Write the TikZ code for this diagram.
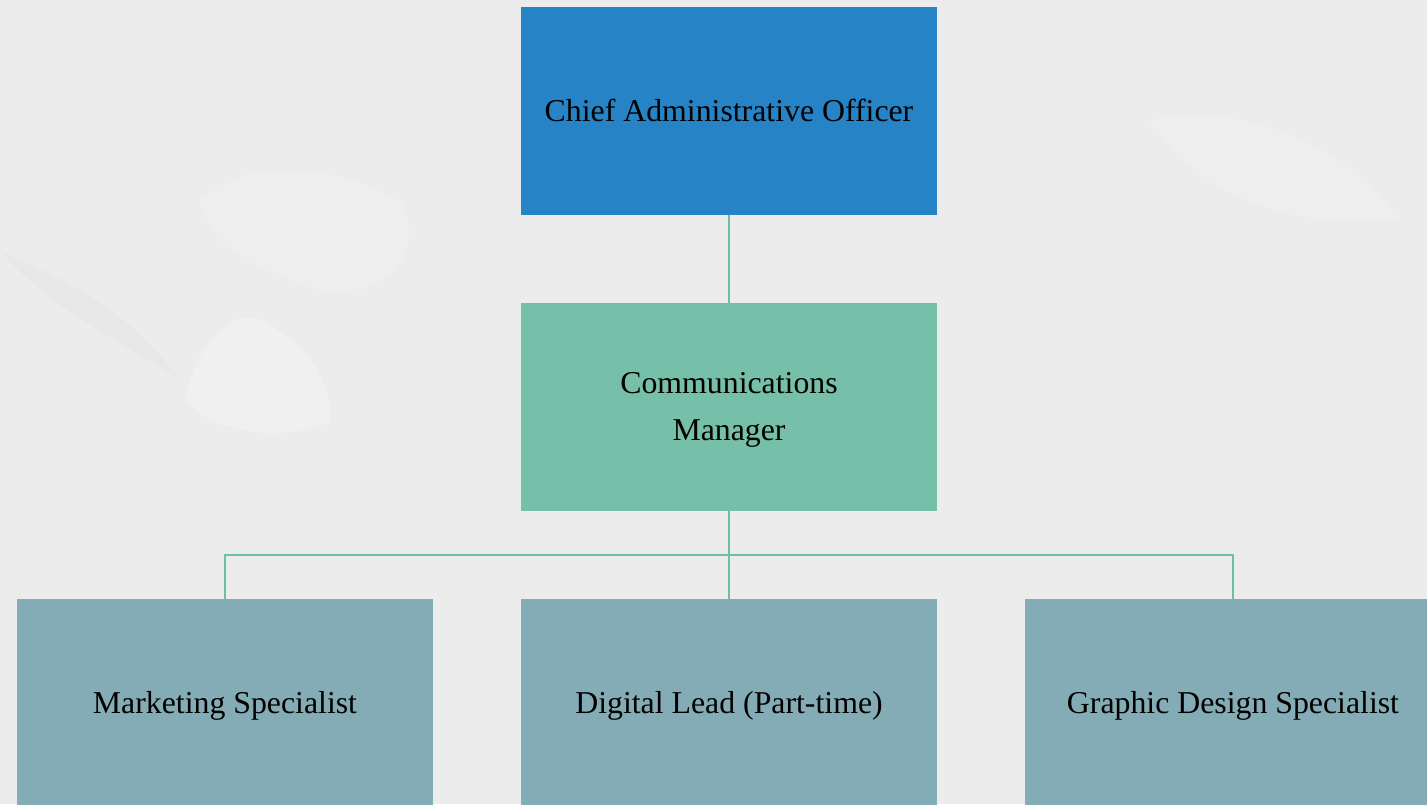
\documentclass[tikz,border=0pt]{standalone}
\usepackage{fontspec}
\setmainfont{Liberation Serif}
\definecolor{bg}{HTML}{ECECEC}
\definecolor{bgdark}{HTML}{E3E3E3}
\definecolor{bglight}{HTML}{F3F3F3}
\definecolor{topc}{HTML}{2683C6}
\definecolor{midc}{HTML}{76BFA8}
\definecolor{lowc}{HTML}{84ACB6}
\definecolor{linec}{HTML}{6CC0A6}
\tikzset{
  box/.style={minimum width=416pt, minimum height=208pt, inner sep=0pt, align=center,
    font=\fontsize{31.8}{47}\selectfont, text=black, text height=24pt, text depth=4pt},
  twoline/.style={text height=72pt, text depth=6pt},
  link/.style={draw=linec, line width=1.3pt}
}
\begin{document}
\begin{tikzpicture}[x=1pt,y=-1pt]
\useasboundingbox (0,0) rectangle (1427,804);
\clip (0,0) rectangle (1427,804);
\fill[bg] (0,0) rectangle (1427,804);
% subtle texture patches
\fill[bglight, opacity=0.6] (185,400) .. controls (200,330) and (240,310) .. (260,320) .. controls (300,340) and (330,370) .. (330,420) .. controls (300,440) and (220,440) .. (185,400) -- cycle;
\fill[bglight, opacity=0.4] (200,200) .. controls (260,150) and (340,170) .. (400,200) .. controls (430,260) and (380,300) .. (320,290) .. controls (260,270) and (210,250) .. (200,200) -- cycle;
\fill[bgdark, opacity=0.4] (0,250) .. controls (40,300) and (100,330) .. (180,380) .. controls (120,300) and (60,280) .. (0,250) -- cycle;
\fill[bglight, opacity=0.4] (1150,120) .. controls (1250,100) and (1350,150) .. (1400,220) .. controls (1300,230) and (1200,200) .. (1150,120) -- cycle;
% nodes
\node[box, fill=topc] (cao) at (729,111) {Chief Administrative Officer};
\node[box, twoline, fill=midc] (cm) at (729,407) {Communications\\Manager};
\node[box, fill=lowc] (ms) at (225,703) {Marketing Specialist};
\node[box, fill=lowc] (dl) at (729,703) {Digital Lead (Part-time)};
\node[box, fill=lowc] (gd) at (1233,703) {Graphic Design Specialist};
\coordinate (bus) at (729,555);
% connectors
\draw[link] (cao.south) -- (cm.north);
\draw[link] (cm.south) -- (bus);
\draw[link] (bus) -| (ms.north);
\draw[link] (bus) -- (dl.north);
\draw[link] (bus) -| (gd.north);
\end{tikzpicture}
\end{document}
